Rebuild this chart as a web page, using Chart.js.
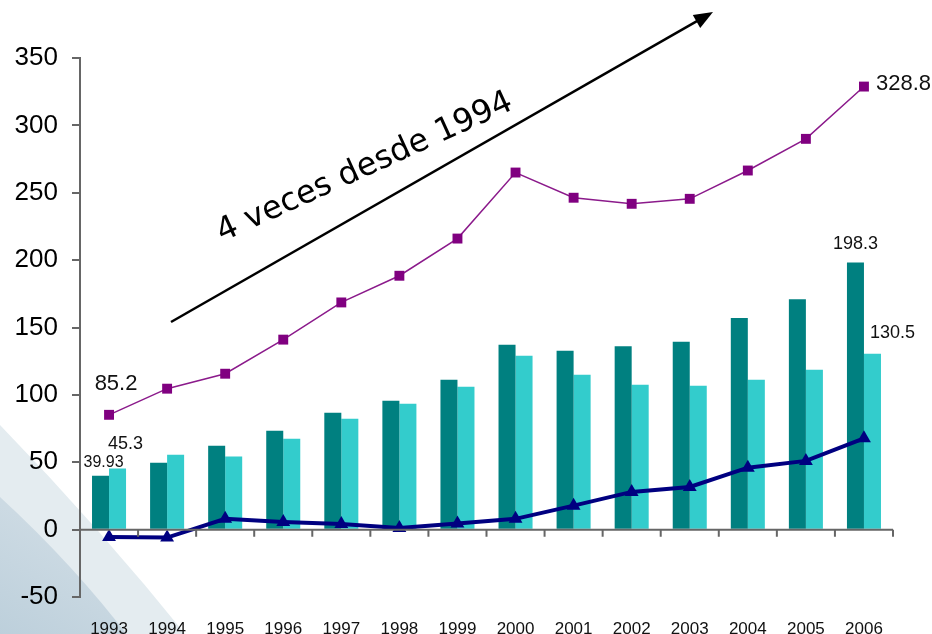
<!DOCTYPE html>
<html>
<head>
<meta charset="utf-8">
<script src="https://cdn.jsdelivr.net/npm/chart.js@4.4.1/dist/chart.umd.min.js"></script>
<style>
  html, body { margin: 0; padding: 0; background: #ffffff; overflow: hidden; }
  #caja { position: relative; width: 932px; height: 640px; }
</style>
</head>
<body>
<div id="caja"><canvas id="grafico"></canvas></div>
<script>
// Datos
var anios = ["1993", "1994", "1995", "1996", "1997", "1998", "1999",
  "2000", "2001", "2002", "2003", "2004", "2005", "2006"];
var barrasOscuras = [39.93, 49.7, 62.3, 73.4, 86.8, 95.7, 111.3, 137.2, 132.8, 136, 139.5, 157, 171, 198.3];
var barrasClaras = [45.3, 55.6, 54.2, 67.5, 82.3, 93.5, 106, 129, 115, 107.6, 106.8, 111.3, 118.7, 130.5];
var lineaTotal = [85.2, 104.6, 115.7, 141, 168.6, 188.4, 216, 265, 246.3, 241.8, 245.5, 266.5, 290, 328.8];
var lineaSaldo = [-5.4, -5.9, 8, 5.7, 4.2, 1.2, 4.5, 8, 17.8, 28, 31.7, 46, 51, 67.8];
var ticksY = [-50, 0, 50, 100, 150, 200, 250, 300, 350];

Chart.defaults.font.family = "'Liberation Sans', Arial, sans-serif";
Chart.defaults.color = "#111";

// fondo con la franja azulada de la esquina
var fondo = {
  id: "fondo",
  beforeDraw: function (chart) {
    var c = chart.ctx;
    var h = chart.height;
    c.save();
    c.fillStyle = "#e4ecf0";
    c.beginPath();
    c.moveTo(0, 425);
    c.quadraticCurveTo(100, 528, 190, h);
    c.lineTo(0, h);
    c.closePath();
    c.fill();
    var g = c.createLinearGradient(60, 540, 0, h);
    g.addColorStop(0, "#ccdae3");
    g.addColorStop(1, "#bccfdb");
    c.fillStyle = g;
    c.beginPath();
    c.moveTo(0, 497);
    c.quadraticCurveTo(75, 566, 131, h);
    c.lineTo(0, h);
    c.closePath();
    c.fill();
    c.restore();
  },
};

// linea del cero con sus marcas
var ejeCero = {
  id: "ejeCero",
  afterDatasetsDraw: function (chart) {
    var c = chart.ctx;
    var y0 = chart.scales.y.getPixelForValue(0);
    var a = chart.chartArea;
    var paso = (a.right - a.left) / anios.length;
    c.save();
    c.strokeStyle = "#666";
    c.lineWidth = 2;
    c.beginPath();
    c.moveTo(a.left, y0);
    c.lineTo(a.right, y0);
    for (var i = 1; i <= anios.length; i++) {
      var px = a.left + i * paso;
      c.moveTo(px, y0);
      c.lineTo(px, y0 + 7);
    }
    c.stroke();
    c.restore();
  },
};

// etiquetas de algunos valores
var etiquetas = {
  id: "etiquetas",
  afterDatasetsDraw: function (chart) {
    var lista = [
      { ds: 2, i: 0, dx: 7, dy: -31, t: 22, al: "center" },
      { ds: 2, i: 13, dx: 12, dy: -3, t: 22, al: "left" },
      { ds: 1, i: 0, dx: 8, dy: -25, t: 18, al: "center" },
      { ds: 0, i: 0, dx: 3, dy: -13, t: 16, al: "center" },
      { ds: 0, i: 13, dx: 0, dy: -18, t: 18, al: "center" },
      { ds: 1, i: 13, dx: 20, dy: -21, t: 18, al: "center" },
    ];
    var c = chart.ctx;
    c.save();
    c.fillStyle = "#111";
    c.textBaseline = "middle";
    lista.forEach(function (e) {
      var el = chart.getDatasetMeta(e.ds).data[e.i];
      var valor = chart.data.datasets[e.ds].data[e.i];
      c.font = e.t + "px 'Liberation Sans', Arial, sans-serif";
      c.textAlign = e.al;
      c.fillText(String(valor), el.x + e.dx, el.y + e.dy);
    });
    c.restore();
  },
};

// flecha y texto anotado
var flecha = {
  id: "flecha",
  afterDraw: function (chart) {
    var c = chart.ctx;
    var x1 = 171, y1 = 322, x2 = 713, y2 = 12;
    var ang = Math.atan2(y2 - y1, x2 - x1);
    c.save();
    c.strokeStyle = "#000";
    c.fillStyle = "#000";
    c.lineWidth = 2.5;
    c.beginPath();
    c.moveTo(x1, y1);
    c.lineTo(x2 - 14 * Math.cos(ang), y2 - 14 * Math.sin(ang));
    c.stroke();
    c.beginPath();
    c.moveTo(x2, y2);
    c.lineTo(x2 - 19 * Math.cos(ang) + 7.5 * Math.sin(ang), y2 - 19 * Math.sin(ang) - 7.5 * Math.cos(ang));
    c.lineTo(x2 - 19 * Math.cos(ang) - 7.5 * Math.sin(ang), y2 - 19 * Math.sin(ang) + 7.5 * Math.cos(ang));
    c.closePath();
    c.fill();
    c.translate(222, 242);
    c.rotate(-24.5 * Math.PI / 180);
    c.font = "32px 'DejaVu Sans', sans-serif";
    c.textAlign = "left";
    c.textBaseline = "alphabetic";
    c.fillText("4 veces desde 1994", 0, 0);
    c.restore();
  },
};

var ctx = document.getElementById("grafico").getContext("2d");
var grafico = new Chart(ctx, {
  type: "bar",
  data: {
    labels: anios,
    datasets: [
      {
        data: barrasOscuras,
        backgroundColor: "#008080",
        barPercentage: 1,
        categoryPercentage: 0.586,
        order: 2,
      },
      {
        data: barrasClaras,
        backgroundColor: "#33cccc",
        barPercentage: 1,
        categoryPercentage: 0.586,
        order: 2,
      },
      {
        type: "line",
        data: lineaTotal,
        borderColor: "#8b1a8b",
        borderWidth: 1.5,
        pointStyle: "rect",
        pointRadius: 7,
        pointBackgroundColor: "#800080",
        pointBorderWidth: 0,
        fill: false,
        order: 1,
      },
      {
        type: "line",
        data: lineaSaldo,
        borderColor: "#000080",
        borderWidth: 4,
        pointStyle: "triangle",
        pointRadius: 8,
        pointBackgroundColor: "#000080",
        pointBorderWidth: 0,
        fill: false,
        order: 0,
      },
    ],
  },
  options: {
    responsive: true,
    maintainAspectRatio: false,
    animation: false,
    layout: { padding: { top: 58, right: 39, left: 0, bottom: 0 } },
    plugins: {
      legend: { display: false },
      tooltip: { enabled: false },
    },
    scales: {
      x: {
        grid: { display: false, drawTicks: false },
        border: { display: false },
        ticks: { padding: 22, font: { size: 17 }, color: "#111", maxRotation: 0 },
        afterFit: function (s) { s.height = 43; },
      },
      y: {
        min: -50,
        max: 350,
        afterBuildTicks: function (s) {
          s.ticks = ticksY.map(function (v) { return { value: v }; });
        },
        grid: { drawOnChartArea: false, tickLength: 8, color: "#666", lineWidth: 2 },
        border: { display: true, color: "#666", width: 2 },
        ticks: { padding: 14, font: { size: 26 }, color: "#000" },
        afterFit: function (s) { s.width = 80; },
      },
    },
  },
  plugins: [fondo, ejeCero, etiquetas, flecha],
});
</script>
</body>
</html>
